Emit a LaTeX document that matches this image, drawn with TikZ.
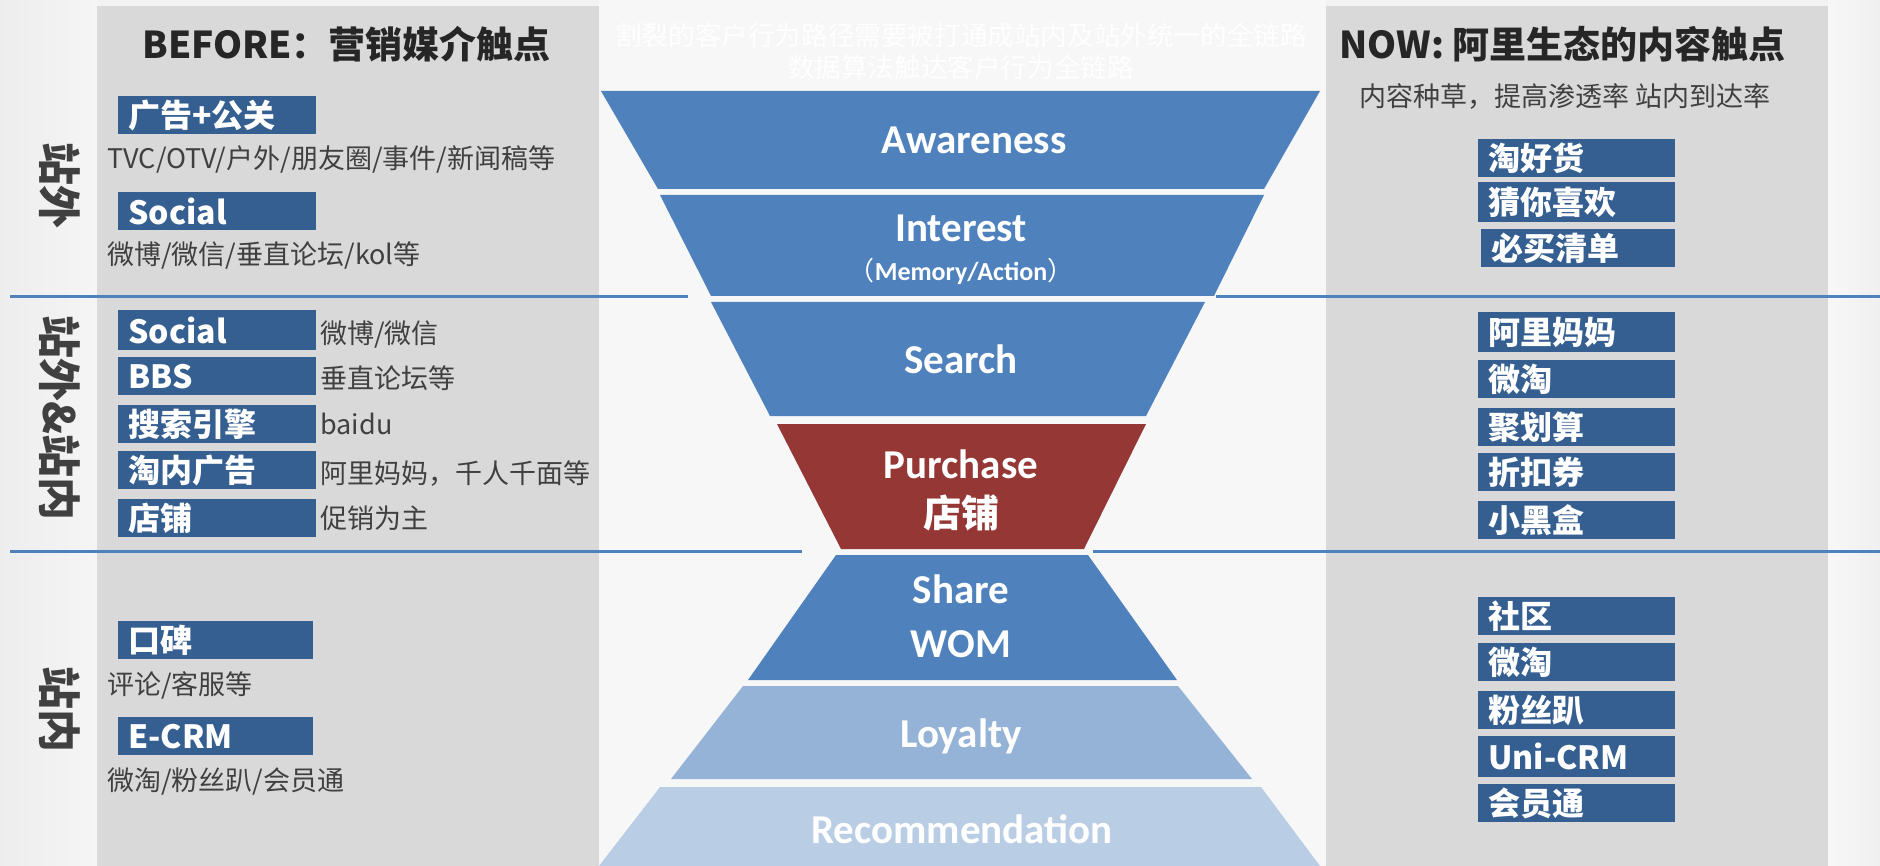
\documentclass[tikz,border=0pt]{standalone}
\usepackage{fontspec}
\setmainfont{Noto Sans CJK SC}
\newfontfamily\calfont{Carlito}
\definecolor{boxblue}{HTML}{365F91}
\definecolor{funblue}{HTML}{4F81BD}
\definecolor{funred}{HTML}{953735}
\definecolor{funlight}{HTML}{95B3D7}
\definecolor{funpale}{HTML}{B9CDE5}
\definecolor{panelgray}{HTML}{D9D9D9}
\definecolor{txtgray}{HTML}{404040}
\definecolor{titlegray}{HTML}{262626}
\definecolor{sepblue}{HTML}{4F81BD}
\newcommand{\mkbox}[5]{%
  \node[tbox,minimum width=#3*0.5pt,minimum height=#4*0.5pt] (#1) at (#2) {};
  \node[boxtxt] (#1t) at ([xshift=5pt]#1.west) {#5};}
\begin{document}
\begin{tikzpicture}[x=0.5pt,y=-0.5pt,
  tbox/.style={fill=boxblue,anchor=north west,inner sep=0pt},
  boxtxt/.style={anchor=west,inner sep=0pt,text=white,font=\bfseries\fontsize{16}{16}\selectfont},
  graytxt/.style={anchor=west,inner sep=0pt,text=txtgray,font=\fontsize{13.5}{13.5}\selectfont},
  titletxt/.style={anchor=west,inner sep=0pt,text=titlegray,font=\bfseries\fontsize{18.5}{18.5}\selectfont},
  vlabel/.style={rotate=-90,inner sep=0pt,text=black!75,font=\bfseries\fontsize{21.5}{21.5}\selectfont},
  funtxt/.style={anchor=base,inner sep=0pt,text=white,font=\calfont\bfseries\fontsize{20.5}{20.5}\selectfont},
  subtxt/.style={inner sep=0pt,text=white,font=\fontsize{13.3}{13.3}\selectfont},
  sepline/.style={draw=sepblue,line width=1.5pt}]
\useasboundingbox (0,0) rectangle (1880,866);
% background
\fill[black!3] (0,0) rectangle (1880,866);
\shade[left color=black!7,right color=black!4] (0,0) rectangle (97,866);
\shade[left color=black!3,right color=black!6] (1828,0) rectangle (1880,866);
\fill[black!5] (97,0) rectangle (599,6);
\fill[black!5] (1326,0) rectangle (1828,6);
% panels
\fill[panelgray] (97,6) rectangle (599,866);
\fill[panelgray] (1326,6) rectangle (1828,866);
% separator lines
\coordinate (l1a) at (10,297); \coordinate (l1b) at (688,297);
\coordinate (l1c) at (1216,297); \coordinate (l1d) at (1880,297);
\coordinate (l2a) at (10,551); \coordinate (l2b) at (802,551);
\coordinate (l2c) at (1093,551); \coordinate (l2d) at (1880,551);
\draw[sepline] (l1a) -- (l1b);
\draw[sepline] (l1c) -- (l1d);
\draw[sepline] (l2a) -- (l2b);
\draw[sepline] (l2c) -- (l2d);
% subtitle (white)
\node[subtxt] (sub1) at (961,35) {割裂的客户行为路径需要被打通成站内及站外统一的全链路};
\node[subtxt] (sub2) at (961,67.5) {数据算法触达客户行为全链路};
% funnel
\fill[funblue] (601,91) -- (1320,91) -- (1264,189) -- (658,189) -- cycle;
\fill[funblue] (660,195) -- (1264,195) -- (1214,296) -- (711,296) -- cycle;
\fill[funblue] (711,302) -- (1205,302) -- (1146,416) -- (770,416) -- cycle;
\fill[funred] (777,424) -- (1146,424) -- (1084,549) -- (841,549) -- cycle;
\fill[funblue] (836,555) -- (1088,555) -- (1177,680) -- (748,680) -- cycle;
\fill[funlight] (743,686) -- (1178,686) -- (1252,779) -- (671,779) -- cycle;
\fill[funpale] (660,787) -- (1261,787) -- (1320,866) -- (599,866) -- cycle;
\node[funtxt] (aw) at (974,154) {Awareness};
\node[funtxt] (in) at (961,242) {Interest};
\node[anchor=base,inner sep=0pt,text=white,font=\fontsize{13}{13}\selectfont] (ma) at (961,281) {（{\calfont\bfseries Memory/Action}）};
\node[funtxt] (se) at (961,373) {Search};
\node[funtxt] (pu) at (961,478) {Purchase};
\node[anchor=base,inner sep=0pt,text=white,font=\bfseries\fontsize{19}{19}\selectfont] (dp) at (961,527) {店铺};
\node[funtxt] (sh) at (961,603) {Share};
\node[funtxt] (wo) at (961,657) {WOM};
\node[funtxt] (lo) at (961,747) {Loyalty};
\node[funtxt] (re) at (962,843) {Recommendation};
% left titles
\node[titletxt] (bt) at (142,44.5) {BEFORE：营销媒介触点};
\node[vlabel] (v1) at (60,186) {站外};
\node[vlabel] (v2) at (60,418) {站外\&站内};
\node[vlabel] (v3) at (60,709) {站内};
% left section 1
\mkbox{lb1}{118,96}{198}{38}{广告+公关}
\node[graytxt] (lt1) at (107,160) {TVC/OTV/户外/朋友圈/事件/新闻稿等};
\mkbox{lb2}{118,192}{198}{38}{Social}
\node[graytxt] (lt2) at (107,255.5) {微博/微信/垂直论坛/kol等};
% left section 2
\mkbox{lb3}{118,310}{198}{40}{Social}
\mkbox{lb4}{118,357}{198}{38}{BBS}
\mkbox{lb5}{118,405}{198}{38}{搜索引擎}
\mkbox{lb6}{118,451}{198}{38}{淘内广告}
\mkbox{lb7}{118,499}{198}{38}{店铺}
\node[graytxt] (lt3) at (320,334.5) {微博/微信};
\node[graytxt] (lt4) at (320,378.5) {垂直论坛等};
\node[graytxt] (lt5) at (320,424) {baidu};
\node[graytxt] (lt6) at (320,473.5) {阿里妈妈，千人千面等};
\node[graytxt] (lt7) at (320,518.5) {促销为主};
% left section 3
\mkbox{lb8}{118,621}{195}{38}{口碑}
\node[graytxt] (lt8) at (107,685) {评论/客服等};
\mkbox{lb9}{118,717}{195}{38}{E-CRM}
\node[graytxt] (lt9) at (107,781.5) {微淘/粉丝趴/会员通};
% right titles
\node[titletxt] (nt) at (1339,44.5) {NOW: 阿里生态的内容触点};
\node[graytxt] (ns) at (1359,96.5) {内容种草，提高渗透率 站内到达率};
% right boxes
\mkbox{rb1}{1478,139}{197}{38}{淘好货}
\mkbox{rb2}{1478,182}{197}{40}{猜你喜欢}
\mkbox{rb3}{1481,229}{194}{38}{必买清单}
\mkbox{rb4}{1478,312}{197}{40}{阿里妈妈}
\mkbox{rb5}{1478,360}{197}{38}{微淘}
\mkbox{rb6}{1478,408}{197}{38}{聚划算}
\mkbox{rb7}{1478,453}{197}{38}{折扣券}
\mkbox{rb8}{1478,501}{197}{38}{小黑盒}
\mkbox{rb9}{1478,597}{197}{38}{社区}
\mkbox{rb10}{1478,643}{197}{38}{微淘}
\mkbox{rb11}{1478,691}{197}{38}{粉丝趴}
\mkbox{rb12}{1478,736}{197}{41}{Uni-CRM}
\mkbox{rb13}{1478,784}{197}{38}{会员通}
\end{tikzpicture}
\end{document}
